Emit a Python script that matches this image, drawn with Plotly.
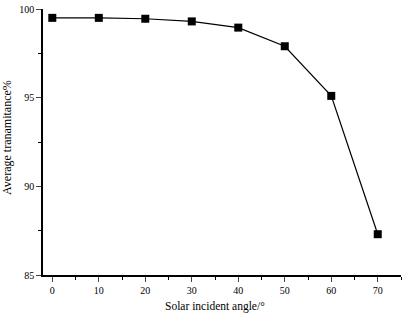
import plotly.graph_objects as go

angles = [0, 10, 20, 30, 40, 50, 60, 70]
transmittance = [99.5, 99.5, 99.45, 99.3, 98.95, 97.9, 95.1, 87.3]
x_ticks = [0, 10, 20, 30, 40, 50, 60, 70]
y_ticks = [85, 90, 95, 100]
x_title = "Solar incident angle/°"
y_title = "Average tranamitance%"

fig = go.Figure()
fig.add_trace(go.Scatter(
    x=angles, y=transmittance, mode="lines+markers",
    line=dict(color="black", width=1.2),
    marker=dict(symbol="square", size=8, color="black"),
    showlegend=False,
))

font = dict(family="Liberation Serif, Times New Roman, serif", color="black")
fig.update_layout(
    width=403, height=315,
    margin=dict(l=43, r=2, t=9, b=40),
    paper_bgcolor="white", plot_bgcolor="white",
    font=font,
    xaxis=dict(
        range=[-2, 75], tickvals=x_ticks, ticks="outside", ticklen=5, tickwidth=1,
        showline=True, linecolor="black", linewidth=1.5, showgrid=False, zeroline=False,
        automargin=False, tickfont=dict(size=10),
        minor=dict(tickvals=[5, 15, 25, 35, 45, 55, 65, 75], ticks="outside", ticklen=3, tickcolor="black"),
    ),
    yaxis=dict(
        range=[85, 100], tickvals=y_ticks, ticks="outside", ticklen=5, tickwidth=1,
        showline=True, linecolor="black", linewidth=1.5, showgrid=False, zeroline=False,
        automargin=False, tickfont=dict(size=10),
        minor=dict(tickvals=[87.5, 92.5, 97.5], ticks="outside", ticklen=3, tickcolor="black"),
    ),
    annotations=[
        dict(text=x_title, xref="paper", yref="paper", x=0.48, y=-0.117,
             xanchor="center", yanchor="middle", showarrow=False, font=dict(size=11.5)),
        dict(text=y_title, xref="paper", yref="paper", x=-0.1006, y=0.519,
             xanchor="center", yanchor="middle", showarrow=False, textangle=-90,
             font=dict(size=12)),
    ],
)
fig.write_html("out.html", config={"displayModeBar": False},
               post_script="document.body.style.margin='0';document.body.style.overflow='hidden';")
